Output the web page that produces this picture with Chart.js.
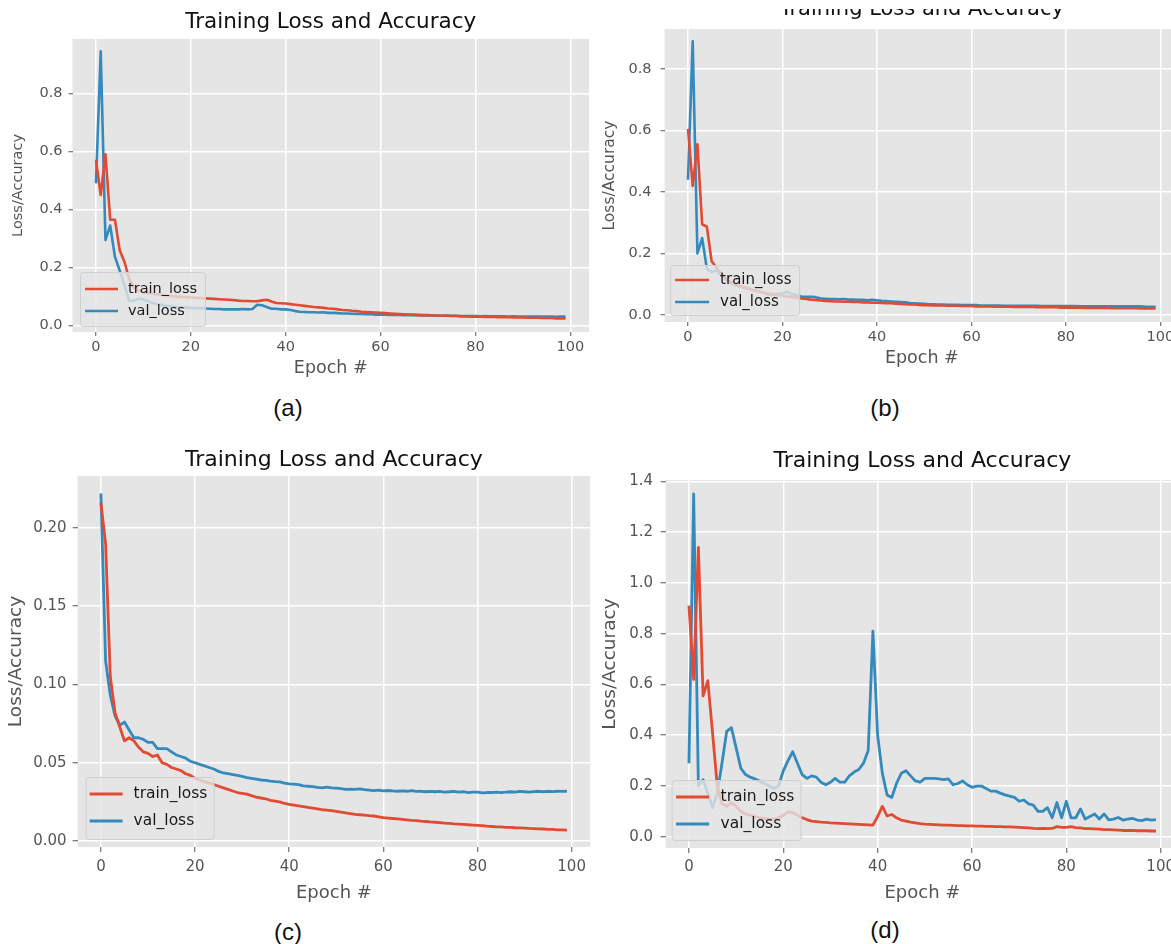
<!DOCTYPE html>
<html>
<head>
<meta charset="utf-8">
<script src="https://cdn.jsdelivr.net/npm/chart.js@4.4.1/dist/chart.umd.min.js"></script>
<style>
  html, body { margin: 0; padding: 0; background: #fff; }
  body { width: 1171px; height: 944px; position: relative; overflow: hidden; }
  canvas { position: absolute; }
  .cap { position: absolute; font-family: "Liberation Sans", Arial, sans-serif; font-size: 24px; color: #111;
         transform: translate(-50%, -50%); white-space: nowrap; }
  #cutB { position: absolute; left: 590px; top: 0; width: 581px; height: 9px; background: #fff; }
</style>
</head>
<body>
<div class="cap" style="left:288px;top:408px">(a)</div>
<div class="cap" style="left:885px;top:408px">(b)</div>
<div class="cap" style="left:288px;top:932px">(c)</div>
<div class="cap" style="left:885px;top:930px">(d)</div>

<script>
// epochs 0..99 and the shared tick marks
const epochs = Array.from({ length: 100 }, (_, i) => i);
const xTicks = [0, 20, 40, 60, 80, 100];

const yTicksA = [0, 0.2, 0.4, 0.6, 0.8];
const yLabelsA = ["0.0", "0.2", "0.4", "0.6", "0.8"];
const yTicksB = [0, 0.2, 0.4, 0.6, 0.8];
const yLabelsB = ["0.0", "0.2", "0.4", "0.6", "0.8"];
const yTicksC = [0, 0.05, 0.1, 0.15, 0.2];
const yLabelsC = ["0.00", "0.05", "0.10", "0.15", "0.20"];
const yTicksD = [0, 0.2, 0.4, 0.6, 0.8, 1.0, 1.2, 1.4];
const yLabelsD = ["0.0", "0.2", "0.4", "0.6", "0.8", "1.0", "1.2", "1.4"];

// (a)
const trainA = [
  0.57, 0.45, 0.59, 0.365, 0.365, 0.26, 0.22, 0.16, 0.13, 0.12,
  0.115, 0.112, 0.11, 0.108, 0.106, 0.104, 0.102, 0.1, 0.099, 0.098,
  0.097, 0.096, 0.095, 0.094, 0.093, 0.092, 0.091, 0.09, 0.089, 0.088,
  0.086, 0.085, 0.085, 0.084, 0.084, 0.087, 0.089, 0.083, 0.078, 0.077,
  0.076, 0.074, 0.072, 0.07, 0.068, 0.066, 0.064, 0.063, 0.061, 0.059,
  0.058, 0.056, 0.054, 0.053, 0.051, 0.05, 0.048, 0.047, 0.046, 0.045,
  0.044, 0.043, 0.042, 0.041, 0.04, 0.039, 0.038, 0.038, 0.037, 0.036,
  0.036, 0.035, 0.035, 0.034, 0.034, 0.033, 0.033, 0.032, 0.032, 0.031,
  0.031, 0.031, 0.03, 0.03, 0.03, 0.029, 0.029, 0.029, 0.028, 0.028,
  0.028, 0.027, 0.027, 0.027, 0.026, 0.026, 0.026, 0.025, 0.025, 0.025
];
const valA = [
  0.49, 0.945, 0.295, 0.345, 0.237, 0.19, 0.14, 0.085, 0.086, 0.093,
  0.09, 0.084, 0.078, 0.074, 0.07, 0.068, 0.066, 0.064, 0.063, 0.062,
  0.061, 0.06, 0.06, 0.059, 0.058, 0.057, 0.057, 0.056, 0.056, 0.056,
  0.056, 0.057, 0.056, 0.057, 0.072, 0.07, 0.064, 0.058, 0.058, 0.056,
  0.056, 0.054, 0.05, 0.048, 0.047, 0.046, 0.046, 0.045, 0.046, 0.044,
  0.044, 0.043, 0.042, 0.042, 0.041, 0.04, 0.04, 0.039, 0.039, 0.038,
  0.038, 0.038, 0.037, 0.037, 0.037, 0.036, 0.036, 0.036, 0.035, 0.035,
  0.035, 0.035, 0.034, 0.034, 0.035, 0.034, 0.034, 0.033, 0.033, 0.033,
  0.033, 0.032, 0.033, 0.032, 0.032, 0.032, 0.032, 0.031, 0.032, 0.031,
  0.031, 0.031, 0.031, 0.031, 0.031, 0.031, 0.031, 0.03, 0.031, 0.031
];

// (b)
const trainB = [
  0.605, 0.42, 0.555, 0.295, 0.287, 0.175, 0.155, 0.135, 0.12, 0.108,
  0.1, 0.095, 0.09, 0.085, 0.08, 0.077, 0.073, 0.07, 0.067, 0.065,
  0.062, 0.06, 0.058, 0.056, 0.054, 0.052, 0.05, 0.049, 0.047, 0.046,
  0.045, 0.044, 0.044, 0.043, 0.043, 0.042, 0.042, 0.041, 0.041, 0.04,
  0.04, 0.039, 0.038, 0.038, 0.037, 0.036, 0.035, 0.034, 0.034, 0.033,
  0.032, 0.032, 0.031, 0.031, 0.031, 0.03, 0.03, 0.03, 0.029, 0.029,
  0.029, 0.028, 0.028, 0.028, 0.028, 0.027, 0.027, 0.027, 0.027, 0.026,
  0.026, 0.026, 0.026, 0.026, 0.025, 0.025, 0.025, 0.025, 0.025, 0.024,
  0.024, 0.024, 0.024, 0.024, 0.023, 0.023, 0.023, 0.023, 0.023, 0.023,
  0.022, 0.022, 0.022, 0.022, 0.022, 0.022, 0.021, 0.021, 0.021, 0.021
];
const valB = [
  0.44, 0.89, 0.2, 0.25, 0.15, 0.14, 0.145, 0.13, 0.115, 0.105,
  0.097, 0.092, 0.088, 0.084, 0.08, 0.077, 0.072, 0.066, 0.066, 0.068,
  0.07, 0.076, 0.068, 0.064, 0.06, 0.059, 0.059, 0.058, 0.054, 0.053,
  0.052, 0.052, 0.051, 0.052, 0.05, 0.05, 0.049, 0.049, 0.048, 0.049,
  0.048, 0.046, 0.045, 0.044, 0.043, 0.042, 0.041, 0.039, 0.038, 0.037,
  0.036, 0.035, 0.035, 0.034, 0.034, 0.033, 0.033, 0.033, 0.032, 0.032,
  0.032, 0.032, 0.031, 0.031, 0.031, 0.031, 0.031, 0.03, 0.03, 0.03,
  0.03, 0.03, 0.03, 0.03, 0.03, 0.029, 0.029, 0.029, 0.029, 0.029,
  0.029, 0.029, 0.029, 0.028, 0.028, 0.028, 0.028, 0.028, 0.028, 0.028,
  0.028, 0.028, 0.028, 0.028, 0.028, 0.028, 0.028, 0.027, 0.027, 0.027
];

// (c)
const trainC = [
  0.216, 0.19, 0.105, 0.082, 0.073, 0.064, 0.066, 0.064, 0.06, 0.057,
  0.056, 0.054, 0.055, 0.05, 0.049, 0.047, 0.046, 0.045, 0.043, 0.042,
  0.04, 0.039, 0.038, 0.037, 0.036, 0.035, 0.034, 0.033, 0.032, 0.031,
  0.0305, 0.03, 0.029, 0.028, 0.0275, 0.027, 0.026, 0.0255, 0.025, 0.024,
  0.0235, 0.023, 0.0225, 0.022, 0.0215, 0.021, 0.0205, 0.02, 0.0198, 0.0195,
  0.019, 0.0185, 0.018, 0.0175, 0.017, 0.0168, 0.0165, 0.0162, 0.016, 0.0155,
  0.015, 0.0147, 0.0144, 0.0141, 0.0138, 0.0135, 0.0132, 0.013, 0.0127, 0.0125,
  0.0122, 0.012, 0.0118, 0.0115, 0.0113, 0.011, 0.0108, 0.0106, 0.0104, 0.0102,
  0.01, 0.0098, 0.0095, 0.0093, 0.0091, 0.009, 0.0088, 0.0087, 0.0085, 0.0084,
  0.0083, 0.0081, 0.008, 0.0078, 0.0077, 0.0075, 0.0074, 0.0072, 0.0071, 0.007
];
const valC = [
  0.222, 0.115, 0.093, 0.08, 0.074, 0.076, 0.071, 0.066, 0.066, 0.065,
  0.063, 0.063, 0.059, 0.059, 0.059, 0.057, 0.055, 0.054, 0.053, 0.051,
  0.05, 0.049, 0.048, 0.047, 0.046, 0.0445, 0.0435, 0.043, 0.0425, 0.042,
  0.0413, 0.0405, 0.04, 0.0395, 0.039, 0.0388, 0.0383, 0.038, 0.0378, 0.037,
  0.0365, 0.0363, 0.036, 0.0352, 0.035, 0.0348, 0.0343, 0.034, 0.0345, 0.034,
  0.0338, 0.0335, 0.033, 0.0332, 0.033, 0.0333, 0.0328, 0.0325, 0.0322, 0.0325,
  0.032, 0.0323, 0.032, 0.0318, 0.032, 0.0318, 0.0322, 0.0317, 0.0318, 0.0315,
  0.0318, 0.0315, 0.0318, 0.0313, 0.0315, 0.0318, 0.0312, 0.0315, 0.031, 0.0313,
  0.0312, 0.0308, 0.031, 0.031, 0.0313, 0.031, 0.0312, 0.0315, 0.0312, 0.0318,
  0.0315, 0.0312, 0.0316, 0.0318, 0.0315, 0.0318, 0.0316, 0.0318, 0.0317, 0.0318
];

// (d)
const trainD = [
  0.91, 0.62, 1.14, 0.555, 0.615, 0.41, 0.2, 0.13, 0.12, 0.135,
  0.12, 0.1, 0.09, 0.085, 0.08, 0.075, 0.073, 0.07, 0.07, 0.075,
  0.085, 0.098, 0.095, 0.085, 0.075, 0.068, 0.062, 0.06, 0.058, 0.057,
  0.055, 0.054, 0.053, 0.052, 0.051, 0.05, 0.049, 0.048, 0.047, 0.046,
  0.08, 0.12, 0.082, 0.088, 0.075, 0.066, 0.062, 0.058, 0.055, 0.052,
  0.05, 0.049, 0.048, 0.047, 0.046, 0.046, 0.045, 0.044, 0.044, 0.043,
  0.043, 0.042, 0.042, 0.041, 0.041, 0.04, 0.04, 0.039, 0.039, 0.038,
  0.037, 0.036, 0.035, 0.033, 0.032, 0.033, 0.032, 0.033, 0.04, 0.037,
  0.037, 0.04, 0.036, 0.035, 0.032, 0.032, 0.031, 0.03, 0.028, 0.028,
  0.027, 0.026, 0.025, 0.025, 0.025, 0.024, 0.024, 0.024, 0.023, 0.023
];
const valD = [
  0.29, 1.35, 0.2, 0.225, 0.17, 0.115, 0.17, 0.29, 0.415, 0.43,
  0.35, 0.27, 0.245, 0.235, 0.228, 0.22, 0.21, 0.2, 0.19, 0.2,
  0.26, 0.3, 0.335, 0.29, 0.245, 0.23, 0.24, 0.235, 0.215, 0.205,
  0.215, 0.23, 0.215, 0.215, 0.24, 0.255, 0.265, 0.29, 0.34, 0.81,
  0.4, 0.25, 0.165, 0.155, 0.21, 0.25, 0.26, 0.24, 0.22, 0.215,
  0.23, 0.23, 0.23, 0.228, 0.225, 0.228, 0.205, 0.21, 0.22, 0.205,
  0.195, 0.2, 0.2, 0.19, 0.18, 0.18, 0.172, 0.165, 0.16, 0.155,
  0.14, 0.145, 0.13, 0.125, 0.1, 0.1, 0.115, 0.075, 0.135, 0.075,
  0.14, 0.075, 0.075, 0.11, 0.07, 0.08, 0.09, 0.07, 0.09, 0.067,
  0.07, 0.076, 0.066, 0.07, 0.073, 0.066, 0.064, 0.07, 0.066, 0.068
];

const FONT = '"DejaVu Sans", "Liberation Sans", sans-serif';
const RED = "#E24A33";
const BLUE = "#348ABD";

// grey ggplot panel behind the grid
const plotBg = {
  id: "plotBg",
  beforeDraw(chart) {
    const { ctx, chartArea: a } = chart;
    ctx.save();
    ctx.fillStyle = "#E5E5E5";
    ctx.fillRect(a.left, a.top, a.right - a.left, a.bottom - a.top);
    ctx.restore();
  }
};

// matplotlib-like legend box in the lower left of the plot
const boxLegend = {
  id: "boxLegend",
  afterDatasetsDraw(chart, args, o) {
    const { ctx, chartArea: a } = chart;
    const x = a.left + o.insetX;
    const y = a.bottom - o.insetY - o.h;
    ctx.save();
    ctx.fillStyle = "rgba(229,229,229,0.8)";
    ctx.strokeStyle = "#cfcfcf";
    ctx.lineWidth = 1;
    ctx.beginPath();
    ctx.roundRect(x + 0.5, y + 0.5, o.w, o.h, 3);
    ctx.fill();
    ctx.stroke();
    ctx.font = o.size + "px " + FONT;
    ctx.textBaseline = "middle";
    chart.data.datasets.forEach((ds, i) => {
      const ry = y + o.rows[i];
      ctx.strokeStyle = ds.borderColor;
      ctx.lineWidth = ds.borderWidth;
      ctx.beginPath();
      ctx.moveTo(x + o.line[0], ry);
      ctx.lineTo(x + o.line[1], ry);
      ctx.stroke();
      ctx.fillStyle = "#1a1a1a";
      ctx.fillText(ds.label, x + o.textX, ry);
    });
    ctx.restore();
  }
};

function makePanel(p) {
  const cv = document.createElement("canvas");
  cv.width = p.w;
  cv.height = p.h;
  cv.style.left = p.left + "px";
  cv.style.top = p.top + "px";
  document.body.appendChild(cv);

  const pts = arr => arr.map((v, i) => ({ x: epochs[i], y: v }));

  return new Chart(cv.getContext("2d"), {
    type: "line",
    data: {
      datasets: [
        { label: "train_loss", data: pts(p.train), borderColor: RED, borderWidth: p.lw,
          pointRadius: 0, tension: 0, borderJoinStyle: "round" },
        { label: "val_loss", data: pts(p.val), borderColor: BLUE, borderWidth: p.lw,
          pointRadius: 0, tension: 0, borderJoinStyle: "round" }
      ]
    },
    options: {
      responsive: false,
      animation: false,
      layout: { padding: 0 },
      scales: {
        x: {
          type: "linear",
          min: -4.95,
          max: 103.95,
          afterBuildTicks: s => { s.ticks = xTicks.map(v => ({ value: v })); },
          afterFit: s => { s.height = p.xH; },
          ticks: { autoSkip: false, maxRotation: 0, color: "#555", padding: p.xPad,
                   font: { family: FONT, size: p.tick }, callback: v => String(v) },
          grid: { color: "#fff", lineWidth: 1.5, tickColor: "#555", tickWidth: 1, tickLength: p.xTl },
          border: { display: false },
          title: { display: true, text: "Epoch #", color: "#555",
                   font: { family: FONT, size: p.xFont }, padding: { top: 0, bottom: p.xTitlePad } }
        },
        y: {
          type: "linear",
          min: p.yMin,
          max: p.yMax,
          afterBuildTicks: s => { s.ticks = p.yTicks.map(v => ({ value: v })); },
          afterFit: s => { s.width = p.yW; },
          ticks: { autoSkip: false, color: "#555", padding: p.yPad,
                   font: { family: FONT, size: p.tick }, callback: (v, i) => p.yLabels[i] },
          grid: { color: "#fff", lineWidth: 1.5, tickColor: "#555", tickWidth: 1, tickLength: p.yTl },
          border: { display: false },
          title: { display: true, text: "Loss/Accuracy", color: "#555",
                   font: { family: FONT, size: p.yFont }, padding: { top: p.yTitlePad, bottom: 0 } }
        }
      },
      plugins: {
        legend: { display: false },
        tooltip: { enabled: false },
        title: {
          display: true,
          text: "Training Loss and Accuracy",
          fullSize: false,
          color: "#111",
          font: { family: FONT, size: p.titleFont, weight: "normal" },
          padding: { top: p.titlePadTop, bottom: p.titlePadBot }
        },
        boxLegend: p.legend
      }
    },
    plugins: [plotBg, boxLegend]
  });
}

// (a)
makePanel({
  left: 0, top: 0, w: 589, h: 392, yW: 72.5, xH: 60,
  train: trainA, val: valA, yMin: -0.022, yMax: 0.988, yTicks: yTicksA, yLabels: yLabelsA,
  lw: 2.6, tick: 14.5, xTl: 4, xPad: 3, yTl: 4, yPad: 6,
  xFont: 17.5, xTitlePad: 13.5, yFont: 14.5, yTitlePad: 9.4,
  titleFont: 21.5, titlePadTop: 9.1, titlePadBot: 4,
  legend: { insetX: 7.5, insetY: 6, w: 125, h: 54, rows: [17, 39], line: [5, 38], textX: 48, size: 14.5 }
});

// (b)
makePanel({
  left: 590, top: -4, w: 589, h: 384, yW: 74.6, xH: 58,
  train: trainB, val: valB, yMin: -0.0228, yMax: 0.93, yTicks: yTicksB, yLabels: yLabelsB,
  lw: 2.6, tick: 14.5, xTl: 4, xPad: 3, yTl: 4, yPad: 9,
  xFont: 17.5, xTitlePad: 11.5, yFont: 15.5, yTitlePad: 10.7,
  titleFont: 21, titlePadTop: 0.9, titlePadBot: 6.9,
  legend: { insetX: 5.5, insetY: 7, w: 129, h: 50, rows: [15, 37], line: [5, 39], textX: 50, size: 15 }
});

// (c)
makePanel({
  left: 0, top: 430, w: 592, h: 484, yW: 77.6, xH: 67,
  train: trainC, val: valC, yMin: -0.0038, yMax: 0.2332, yTicks: yTicksC, yLabels: yLabelsC,
  lw: 2.8, tick: 15, xTl: 5, xPad: 6, yTl: 5, yPad: 6,
  xFont: 18, xTitlePad: 10.2, yFont: 18.5, yTitlePad: 5,
  titleFont: 22, titlePadTop: 16.8, titlePadBot: 2.8,
  legend: { insetX: 8, insetY: 8, w: 128, h: 62, rows: [17, 44], line: [4, 37], textX: 48, size: 15.5 }
});

// (d)
makePanel({
  left: 590, top: 430, w: 590, h: 484, yW: 75.6, xH: 66,
  train: trainD, val: valD, yMin: -0.044, yMax: 1.405, yTicks: yTicksD, yLabels: yLabelsD,
  lw: 2.8, tick: 15, xTl: 5, xPad: 5, yTl: 5, yPad: 7.6,
  xFont: 18, xTitlePad: 10.2, yFont: 18.5, yTitlePad: 8.9,
  titleFont: 22, titlePadTop: 17.8, titlePadBot: 5.8,
  legend: { insetX: 6, insetY: 8, w: 129, h: 60, rows: [17, 44], line: [4.5, 37.5], textX: 49, size: 15.5 }
});
</script>
<div id="cutB"></div>
</body>
</html>
